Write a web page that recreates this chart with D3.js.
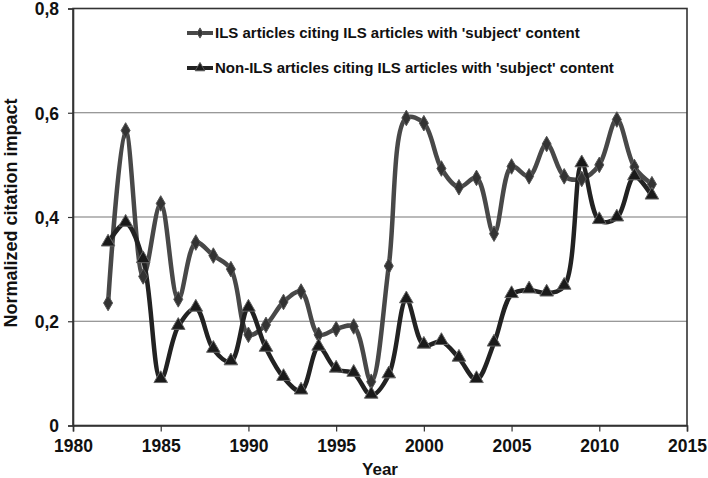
<!DOCTYPE html>
<html>
<head>
<meta charset="utf-8">
<script src="https://cdn.jsdelivr.net/npm/d3@7"></script>
<style>
  body { margin: 0; background: #fff; }
  svg text { font-family: "Liberation Sans", Arial, sans-serif; font-weight: bold; fill: #111; }
</style>
</head>
<body>
<svg id="chart" width="708" height="478"></svg>
<script>
const years = d3.range(1982, 2014);
const ilsValues = [0.235, 0.566, 0.286, 0.426, 0.242, 0.351, 0.326, 0.300, 0.174, 0.193,
  0.237, 0.257, 0.174, 0.185, 0.190, 0.084, 0.306, 0.590, 0.580, 0.493,
  0.457, 0.475, 0.368, 0.497, 0.478, 0.540, 0.478, 0.473, 0.500, 0.587,
  0.496, 0.463];
const nonIlsValues = [0.350, 0.388, 0.318, 0.088, 0.190, 0.225, 0.146, 0.122, 0.225, 0.148,
  0.092, 0.066, 0.150, 0.108, 0.100, 0.058, 0.097, 0.241, 0.154, 0.161,
  0.129, 0.088, 0.158, 0.251, 0.260, 0.254, 0.267, 0.502, 0.393, 0.398,
  0.477, 0.440];
const seriesNames = ["ILS articles citing ILS articles with 'subject' content",
  "Non-ILS articles citing ILS articles with 'subject' content"];
const xTicks = [1980, 1985, 1990, 1995, 2000, 2005, 2010, 2015];
const yTicks = [0, 0.2, 0.4, 0.6, 0.8];

const svg = d3.select("#chart");
const plotLeft = 73, plotRight = 687, plotTop = 8.5, plotBottom = 425.5;

const x = d3.scaleLinear().domain([1980, 2015]).range([plotLeft, plotRight]);
const y = d3.scaleLinear().domain([0, 0.8]).range([plotBottom, plotTop]);
const fmt = d => d === 0 ? "0" : d3.format(".1f")(d).replace(".", ",");

// gridlines
svg.append("g")
    .selectAll("line")
    .data(yTicks.filter(d => d > 0 && d < 0.8))
    .join("line")
    .attr("x1", plotLeft).attr("x2", plotRight)
    .attr("y1", d => y(d)).attr("y2", d => y(d))
    .attr("stroke", "#777").attr("stroke-width", 1.2);

// frame
svg.append("rect")
    .attr("x", plotLeft).attr("y", plotTop)
    .attr("width", plotRight - plotLeft).attr("height", plotBottom - plotTop)
    .attr("fill", "none").attr("stroke", "#333").attr("stroke-width", 1.6);

// axes
const xAxis = svg.append("g")
    .attr("transform", `translate(0,${plotBottom})`)
    .call(d3.axisBottom(x).tickValues(xTicks).tickFormat(d3.format("d")).tickSize(6).tickPadding(8));
const yAxis = svg.append("g")
    .attr("transform", `translate(${plotLeft},0)`)
    .call(d3.axisLeft(y).tickValues(yTicks).tickFormat(fmt).tickSize(5).tickPadding(9));
[xAxis, yAxis].forEach(g => {
    g.select(".domain").attr("stroke", "#333").attr("stroke-width", 1.6);
    g.selectAll(".tick line").attr("stroke", "#333").attr("stroke-width", 1.2);
    g.selectAll("text").style("font-size", "17.5px").attr("fill", "#111");
});
yAxis.selectAll("text").attr("dy", "0.36em");

svg.append("text")
    .attr("x", 380).attr("y", 475)
    .attr("text-anchor", "middle").style("font-size", "17px")
    .text("Year");
svg.append("text")
    .attr("transform", "translate(17,213) rotate(-90)")
    .attr("text-anchor", "middle").style("font-size", "18px")
    .text("Normalized citation impact");

// lines
const line = d3.line()
    .x((d, i) => x(years[i]))
    .y(d => y(d))
    .curve(d3.curveCatmullRom.alpha(0.5));

const diamond = d3.symbol().type(d3.symbolDiamond).size(70);
const triangle = d3.symbol().type(d3.symbolTriangle).size(80);

svg.append("path").datum(ilsValues)
    .attr("d", line).attr("fill", "none")
    .attr("stroke", "#484848").attr("stroke-width", 4.5);
svg.append("path").datum(nonIlsValues)
    .attr("d", line).attr("fill", "none")
    .attr("stroke", "#222").attr("stroke-width", 4.5);

svg.append("g").selectAll("path")
    .data(ilsValues)
    .join("path")
    .attr("transform", (d, i) => `translate(${x(years[i])},${y(d)})`)
    .attr("d", diamond)
    .attr("fill", "#333").attr("stroke", "#555").attr("stroke-width", 1);
svg.append("g").selectAll("path")
    .data(nonIlsValues)
    .join("path")
    .attr("transform", (d, i) => `translate(${x(years[i])},${y(d) - 1})`)
    .attr("d", triangle)
    .attr("fill", "#1a1a1a").attr("stroke", "#666").attr("stroke-width", 1);

// legend
const legend = svg.append("g");
const legendRows = [
    { name: seriesNames[0], y: 33, color: "#484848", sym: d3.symbol().type(d3.symbolDiamond).size(30), fill: "#333" },
    { name: seriesNames[1], y: 68, color: "#222", sym: d3.symbol().type(d3.symbolTriangle).size(40), fill: "#1a1a1a" }
];
legendRows.forEach(r => {
    legend.append("line")
        .attr("x1", 187).attr("x2", 213).attr("y1", r.y).attr("y2", r.y)
        .attr("stroke", r.color).attr("stroke-width", 4);
    legend.append("path")
        .attr("transform", `translate(200,${r.y})`)
        .attr("d", r.sym())
        .attr("fill", r.fill).attr("stroke", "#555");
    legend.append("text")
        .attr("x", 215).attr("y", r.y).attr("dy", "0.36em")
        .style("font-size", "15px")
        .text(r.name);
});
</script>
</body>
</html>
